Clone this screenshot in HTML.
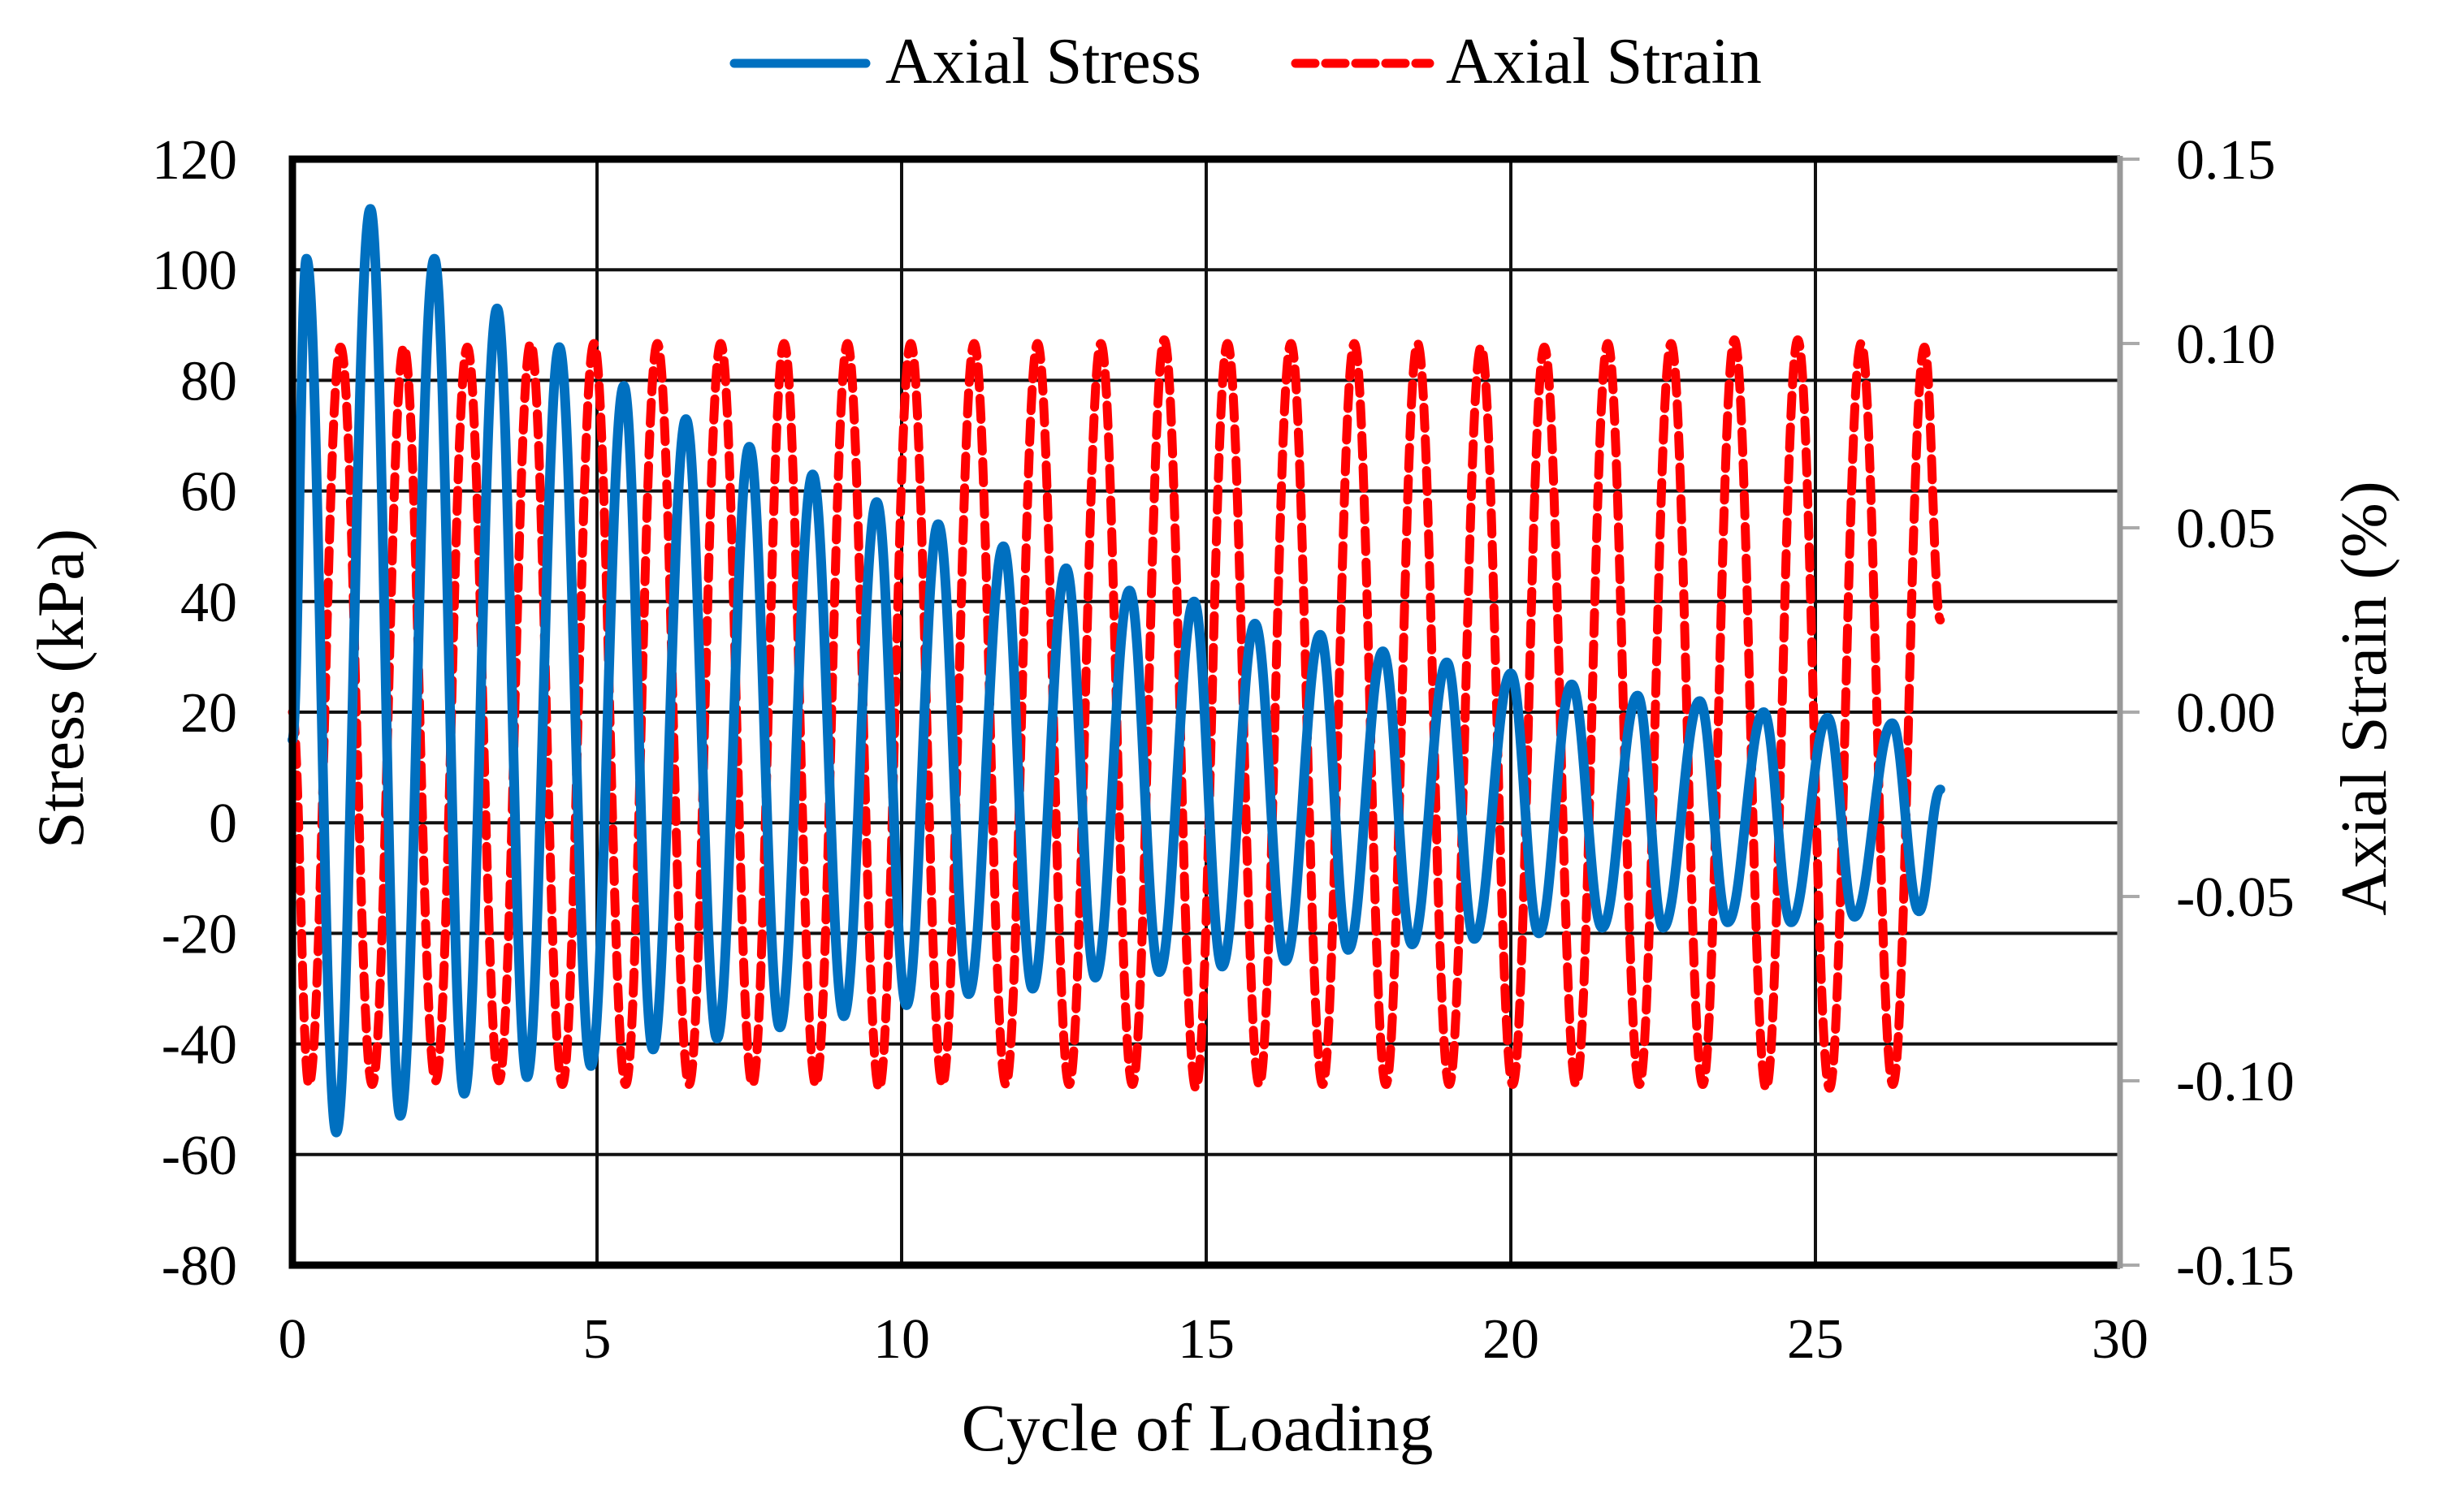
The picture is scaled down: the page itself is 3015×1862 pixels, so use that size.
<!DOCTYPE html>
<html><head><meta charset="utf-8"><style>
html,body{margin:0;padding:0;background:#fff;}
svg{display:block;font-family:"Liberation Serif",serif;}
</style></head><body>
<svg id="chart" width="3015" height="1862" viewBox="0 0 3015 1862">
<g id="grid"></g>
<g id="series"></g>
<g id="axes"></g>
<g id="legend">
  <line x1="904" y1="78" x2="1066" y2="78" stroke="#0070C0" stroke-width="11" stroke-linecap="round"/>
  <text x="1090" y="102" font-size="80" fill="#000">Axial Stress</text>
  <line x1="1595" y1="78" x2="1760" y2="78" stroke="#FF0000" stroke-width="11" stroke-dasharray="24,13" stroke-linecap="round"/>
  <text x="1780" y="102" font-size="80" fill="#000">Axial Strain</text>
</g>
<text x="0" y="0" font-size="82" text-anchor="middle" transform="translate(102,848) rotate(-90)">Stress (kPa)</text>
<text x="0" y="0" font-size="81" text-anchor="middle" transform="translate(2937,860) rotate(-90)">Axial Strain (%)</text>
<text x="1474" y="1786" font-size="83" text-anchor="middle">Cycle of Loading</text>
</svg>
<script>
const xTicks = [0,5,10,15,20,25,30];
const yTicks = [120,100,80,60,40,20,0,-20,-40,-60,-80];
const y2Ticks = [0.15,0.10,0.05,0.00,-0.05,-0.10,-0.15];
const y2Labels = ["0.15","0.10","0.05","0.00","-0.05","-0.10","-0.15"];

const stressPeakX = [0.23,1.28,2.33,3.36,4.38,5.44,6.46,7.5,8.54,9.59,10.6,11.67,12.7,13.74,14.8,15.8,16.87,17.9,18.95,20.0,21.0,22.08,23.1,24.15,25.2,26.26];
const stressPeakY = [102,111,102,93,86,79,73,68,63,58,54,50,46,42,40,36,34,31,29,27,25,23,22,20,19,18];
const stressTroughX = [0.72,1.77,2.82,3.85,4.9,5.92,6.97,8.0,9.05,10.08,11.1,12.15,13.18,14.23,15.26,16.3,17.33,18.38,19.4,20.46,21.5,22.5,23.56,24.6,25.64,26.7];
const stressTroughY = [-56,-53,-49,-46,-44,-41,-39,-37,-35,-33,-31,-30,-28,-27,-26,-25,-23,-22,-21,-20,-19,-19,-18,-18,-17,-16];
const stressStart = [0,15];
const stressEnd = [27.05,6];

const strainTroughX = [0.27,1.31,2.35,3.39,4.43,5.47,6.51,7.55,8.59,9.63,10.67,11.71,12.75,13.79,14.83,15.87,16.91,17.95,18.99,20.03,21.07,22.11,23.15,24.19,25.23,26.27];
const strainTroughY = [-0.101,-0.101,-0.100,-0.100,-0.101,-0.101,-0.101,-0.101,-0.101,-0.102,-0.101,-0.101,-0.101,-0.101,-0.102,-0.101,-0.101,-0.101,-0.101,-0.101,-0.101,-0.101,-0.101,-0.102,-0.102,-0.101];
const strainPeakX = [0.79,1.83,2.87,3.91,4.95,5.99,7.03,8.07,9.11,10.15,11.19,12.23,13.27,14.31,15.35,16.39,17.43,18.47,19.51,20.55,21.59,22.63,23.67,24.71,25.75,26.79];
const strainPeakY = [0.099,0.099,0.099,0.100,0.100,0.100,0.100,0.100,0.100,0.100,0.100,0.100,0.100,0.101,0.100,0.100,0.100,0.100,0.099,0.099,0.100,0.100,0.101,0.101,0.100,0.099];
const strainStart = [0,0.0];
const strainEnd = [27.05,0.025];

const L=360,R=2610,T=196,B=1558;
const xs = v => L + (v-0)/(30-0)*(R-L);
const ys = v => B - (v+80)/(200)*(B-T);
const y2s = v => B - (v+0.15)/0.30*(B-T);
const NS='http://www.w3.org/2000/svg';
function mk(tag, attrs, parent){const e=document.createElementNS(NS,tag);for(const k in attrs)e.setAttribute(k,attrs[k]);parent.appendChild(e);return e;}

const grid=document.getElementById('grid'), axes=document.getElementById('axes'), series=document.getElementById('series');
yTicks.forEach(v=>{
  if(v!==120&&v!==-80){const g=mk('line',{x1:L,x2:R,y1:ys(v),y2:ys(v),stroke:'#111','stroke-width':4},grid);
  
  }
  const t=mk('text',{x:292,y:ys(v)+24,'font-size':70,'text-anchor':'end'},axes);t.textContent=v;
  
  
});
xTicks.forEach(v=>{
  if(v!==0&&v!==30){const g=mk('line',{x1:xs(v),x2:xs(v),y1:T,y2:B,stroke:'#111','stroke-width':4},grid);
  
  }
  const t=mk('text',{x:xs(v),y:1672,'font-size':70,'text-anchor':'middle'},axes);t.textContent=v;
  
  
});
y2Ticks.forEach((v,i)=>{
  const tk=mk('line',{x1:R,x2:R+24,y1:y2s(v),y2:y2s(v),stroke:'#aaa','stroke-width':4},axes);
  
  
  const t=mk('text',{x:2679,y:y2s(v)+24,'font-size':70},axes);t.textContent=y2Labels[i];
  
  
});
const fr=mk('path',{d:`M${R},${T} L${L},${T} L${L},${B} L${R},${B}`,fill:'none',stroke:'#000','stroke-width':9},axes);


const ra=mk('line',{x1:R,x2:R,y1:T-4,y2:B+4,stroke:'#999','stroke-width':7},axes);



function buildPath(pts, yf){
  let d=`M${xs(pts[0][0]).toFixed(1)},${yf(pts[0][1]).toFixed(1)}`;
  for(let i=1;i<pts.length;i++){
    const x0=xs(pts[i-1][0]),y0=yf(pts[i-1][1]),x1=xs(pts[i][0]),y1=yf(pts[i][1]),dx=x1-x0;
    d+=` C${(x0+dx*0.4).toFixed(1)},${y0.toFixed(1)} ${(x1-dx*0.4).toFixed(1)},${y1.toFixed(1)} ${x1.toFixed(1)},${y1.toFixed(1)}`;
  }
  return d;
}
function merge(start, ax, ay, bx, by, end){
  const all=[];
  ax.forEach((x,i)=>all.push([x,ay[i]]));
  bx.forEach((x,i)=>all.push([x,by[i]]));
  all.sort((a,b)=>a[0]-b[0]);
  return [start].concat(all,[end]);
}
const strainPts=merge(strainStart,strainTroughX,strainTroughY,strainPeakX,strainPeakY,strainEnd);
const sp=mk('path',{d:buildPath(strainPts,y2s),fill:'none',stroke:'#FF0000','stroke-width':11,'stroke-dasharray':'26,13','stroke-linecap':'round'},series);


const stressPts=merge(stressStart,stressPeakX,stressPeakY,stressTroughX,stressTroughY,stressEnd);
const bp=mk('path',{d:buildPath(stressPts,ys),fill:'none',stroke:'#0070C0','stroke-width':12,'stroke-linejoin':'round','stroke-linecap':'round'},series);


</script>
</body></html>
